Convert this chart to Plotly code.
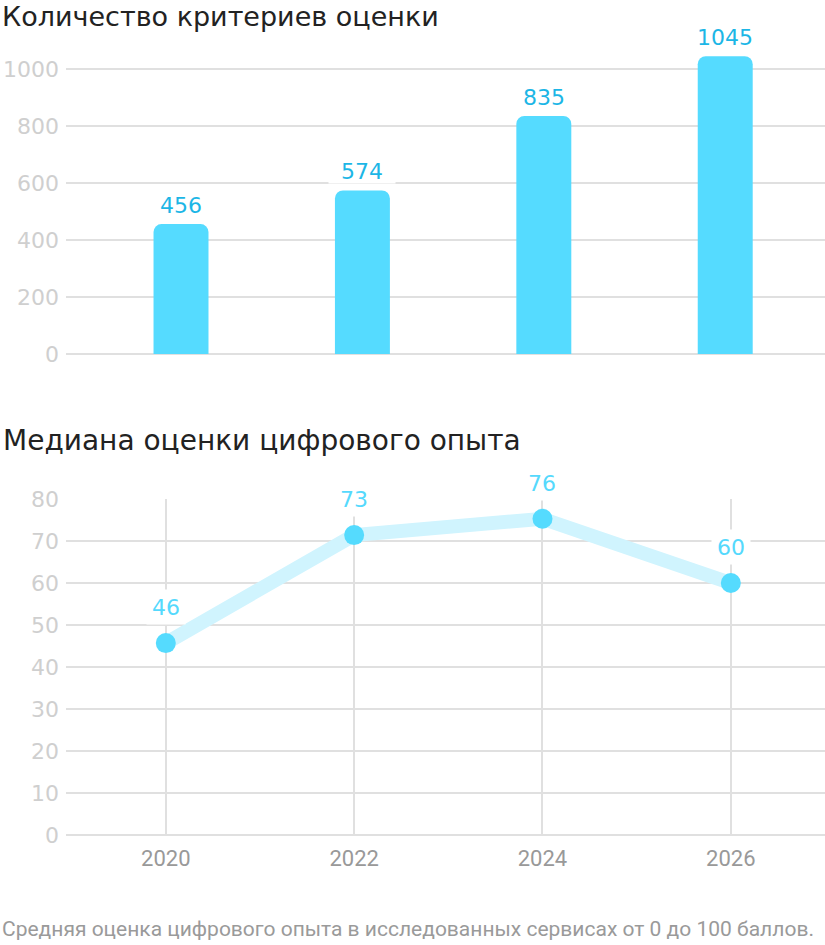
import plotly.graph_objects as go

# data
years = [2020, 2022, 2024, 2026]
criteria = [456, 574, 835, 1045]
bar_ticks = [0, 200, 400, 600, 800, 1000]
# plotted positions of the points and the labels printed above them
median_pos = [45.7, 71.4, 75.3, 60.0]
median_labels = ["46", "73", "76", "60"]
line_ticks = [0, 10, 20, 30, 40, 50, 60, 70, 80]

W, H = 825, 945
LEFT = 66


def py(p):
    # pixel row -> paper y
    return (H - p) / H


def px(p):
    # pixel column -> paper x
    return (p - LEFT) / (W - LEFT)


wide_font = "DejaVu Sans"
narrow_font = "Liberation Sans Narrow, Roboto, sans-serif"
grid = "#e0e0e0"

fig = go.Figure()

fig.add_trace(go.Bar(
    x=list(range(len(criteria))),
    y=criteria,
    width=0.303,
    marker=dict(color="#55dbff", cornerradius=8, line=dict(width=0)),
    xaxis="x",
    yaxis="y",
    hoverinfo="skip",
))

fig.add_trace(go.Scatter(
    x=years,
    y=median_pos,
    mode="lines+markers",
    line=dict(color="#d0f4fe", width=14),
    marker=dict(color="#55dbfe", size=20),
    xaxis="x2",
    yaxis="y2",
    hoverinfo="skip",
))

annotations = []

for i, v in enumerate(criteria):
    annotations.append(dict(
        x=i, y=v, xref="x", yref="y",
        text=str(v), showarrow=False,
        yanchor="middle", yshift=19,
        bgcolor="white", width=66, height=24, borderpad=0,
        font=dict(family=wide_font, size=22, color="#1cb6e6"),
    ))

for yr, v, lab in zip(years, median_pos, median_labels):
    annotations.append(dict(
        x=yr, y=v, xref="x2", yref="y2",
        text=lab, showarrow=False,
        yanchor="middle", yshift=36,
        bgcolor="white", width=38, height=34, borderpad=0,
        font=dict(family=wide_font, size=22, color="#55d9fd"),
    ))

annotations.append(dict(
    x=px(1), y=py(0), xref="paper", yref="paper",
    xanchor="left", yanchor="top", showarrow=False, borderpad=0,
    text="Количество критериев оценки",
    font=dict(family=wide_font, size=27, color="#222222"),
))
annotations.append(dict(
    x=px(1), y=py(440), xref="paper", yref="paper",
    xanchor="left", yanchor="middle", showarrow=False,
    text="Медиана оценки цифрового опыта",
    font=dict(family=wide_font, size=28, color="#222222"),
))
annotations.append(dict(
    x=px(0), y=py(929), xref="paper", yref="paper",
    xanchor="left", yanchor="middle", showarrow=False,
    text="Средняя оценка цифрового опыта в исследованных сервисах от 0 до 100 баллов.",
    font=dict(family=narrow_font, size=21, color="#9a9a9a"),
))

fig.update_layout(
    width=W,
    height=H,
    margin=dict(l=LEFT, r=0, t=0, b=0, autoexpand=False),
    paper_bgcolor="white",
    plot_bgcolor="white",
    showlegend=False,
    annotations=annotations,
    xaxis=dict(
        domain=[0, 1], anchor="y",
        range=[-0.634, 3.55],
        showgrid=False, zeroline=False, showticklabels=False,
        fixedrange=True,
    ),
    yaxis=dict(
        domain=[py(354), py(54)], anchor="x",
        range=[0, 1052.6],
        tickvals=bar_ticks,
        showgrid=True, gridcolor=grid, gridwidth=2,
        zeroline=True, zerolinecolor=grid, zerolinewidth=2,
        tickfont=dict(family=wide_font, size=22, color="#cfcfcf"),
        ticklabelstandoff=6,
        fixedrange=True,
    ),
    xaxis2=dict(
        domain=[0, 1], anchor="y2",
        range=[2018.94, 2027.0],
        tickvals=years,
        showgrid=True, gridcolor=grid, gridwidth=1.5,
        zeroline=False,
        tickfont=dict(family=narrow_font, size=22, color="#999999"),
        ticklabelstandoff=8,
        fixedrange=True,
    ),
    yaxis2=dict(
        domain=[py(835), py(499)], anchor="x2",
        range=[0, 80],
        tickvals=line_ticks,
        showgrid=True, gridcolor=grid, gridwidth=2,
        zeroline=True, zerolinecolor=grid, zerolinewidth=2,
        tickfont=dict(family=wide_font, size=22, color="#cfcfcf"),
        ticklabelstandoff=6,
        fixedrange=True,
    ),
)

# drop the browser's default 8px page margin so the figure sits at 0,0
fig.write_html(
    "out.html",
    config={"displayModeBar": False},
    post_script="document.body.style.margin = '0';",
)
